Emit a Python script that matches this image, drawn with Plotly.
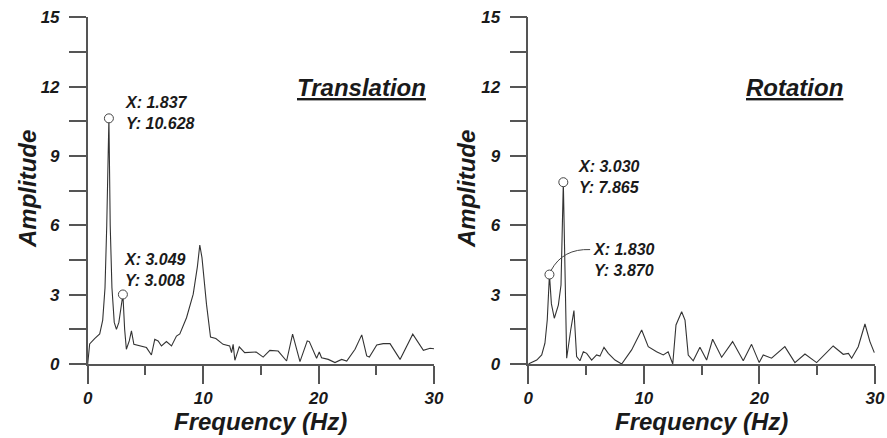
import plotly.graph_objects as go

# Translation spectrum
trans_freq = [0, 0.17, 0.6, 1.04, 1.3, 1.5, 1.65, 1.837, 1.95, 2.1, 2.3, 2.49, 2.7, 2.9,
              3.049, 3.2, 3.35, 3.6, 3.79, 4.0, 4.5, 5.09, 5.52, 5.81, 6.1, 6.39, 6.82,
              7.26, 7.69, 7.98, 8.56, 9.14, 9.5, 9.71, 9.9, 10.29, 10.64, 11.1, 11.73,
              12.3, 12.46, 12.6, 12.75, 13.13, 13.6, 14.2, 14.6, 15.2, 15.78, 16.5,
              17.23, 17.75, 18.39, 19.02, 19.2, 19.83, 20.06, 20.26, 20.84, 21.42, 22.0,
              22.44, 23.16, 23.74, 24.17, 24.4, 25.04, 25.6, 26.19, 27.06, 28.16, 29.08,
              29.66, 30.0]
trans_amp = [0, 0.87, 1.1, 1.3, 1.9, 3.3, 6.0, 10.628, 6.0, 3.3, 1.8, 1.5, 1.8, 2.4,
             3.008, 1.5, 0.64, 1.0, 1.43, 0.85, 0.78, 0.71, 0.39, 1.07, 1.0, 0.78, 0.97,
             0.78, 1.21, 1.3, 2.0, 3.02, 4.2, 5.15, 4.6, 2.59, 1.17, 1.1, 0.85,
             0.78, 0.49, 0.85, 0.16, 0.74, 0.49, 0.49, 0.52, 0.3, 0.59, 0.56,
             0.13, 1.29, 0.1, 1.0, 0.97, 0.25, 0.52, 0.27, 0.2, 0.06, 0.2,
             0.13, 0.64, 1.26, 0.35, 0.3, 0.82, 0.88, 0.88, 0.2, 1.29, 0.59,
             0.68, 0.66]

# Rotation spectrum
rot_freq = [0, 0.73, 1.16, 1.44, 1.64, 1.83, 2.0, 2.25, 2.6, 2.83, 3.03, 3.18, 3.32,
            3.67, 3.95, 4.18, 4.47, 4.76, 5.05, 5.48, 5.91, 6.2, 6.55, 6.92, 7.5, 8.08,
            8.94, 9.81, 10.38, 11.1, 11.68, 12.1, 12.4, 12.5, 12.78, 13.27, 13.56, 13.84,
            14.27, 14.85, 15.43, 15.95, 16.73, 17.68, 18.6, 19.32, 19.98, 20.33, 21.05,
            22.2, 23.07, 23.94, 24.95, 26.38, 27.25, 27.7, 27.98, 28.55, 29.13, 29.56,
            29.94]
rot_amp = [0, 0.17, 0.39, 0.9, 1.9, 3.87, 2.6, 1.98, 2.55, 3.42, 7.865, 3.5, 0.25,
           1.47, 2.31, 0.32, 0.14, 0.53, 0.46, 0.17, 0.39, 0.34, 0.72, 0.46, 0.17, 0.0,
           0.61, 1.47, 0.75, 0.53, 0.39, 0.53, 0.17, 0.0, 1.69, 2.26, 1.9, 0.39,
           0.14, 0.72, 0.17, 1.07, 0.29, 0.97, 0.14, 0.85, 0.06, 0.39, 0.25,
           0.75, 0.06, 0.43, 0.06, 0.78, 0.42, 0.46, 0.25, 0.75, 1.73, 0.97,
           0.49]

# Marked peaks (frequency, amplitude)
trans_peaks = [(1.837, 10.628), (3.049, 3.008)]
rot_peaks = [(3.030, 7.865), (1.830, 3.870)]

x_ticks = [0, 10, 20, 30]
y_ticks = [0, 3, 6, 9, 12, 15]
panel_titles = ["Translation", "Rotation"]

FONT = "Liberation Sans, Arial, sans-serif"
INK = "#1a1a1a"
AXIS = "#555555"

fig = go.Figure()

fig.add_trace(go.Scatter(x=trans_freq, y=trans_amp, mode="lines",
                         line=dict(color="#333333", width=1.1),
                         xaxis="x", yaxis="y", hoverinfo="skip"))
fig.add_trace(go.Scatter(x=rot_freq, y=rot_amp, mode="lines",
                         line=dict(color="#333333", width=1.1),
                         xaxis="x2", yaxis="y2", hoverinfo="skip"))

# Peak markers
fig.add_trace(go.Scatter(x=[p[0] for p in trans_peaks], y=[p[1] for p in trans_peaks],
                         mode="markers", xaxis="x", yaxis="y",
                         marker=dict(symbol="circle", size=9, color="white",
                                     line=dict(color="#444444", width=1))))
fig.add_trace(go.Scatter(x=[p[0] for p in rot_peaks], y=[p[1] for p in rot_peaks],
                         mode="markers", xaxis="x2", yaxis="y2",
                         marker=dict(symbol="circle", size=9, color="white",
                                     line=dict(color="#444444", width=1))))

tick_font = dict(family=FONT, size=17, color=INK, weight="bold", style="italic")

def xaxis_cfg(domain, anchor):
    return dict(domain=domain, anchor=anchor, range=[0, 30], tickvals=x_ticks,
                automargin=False,
                showgrid=False, zeroline=False, showline=True, linecolor=AXIS,
                linewidth=1.5, ticks="outside", ticklen=18, tickwidth=1.5,
                tickcolor=AXIS, tickfont=tick_font,
                minor=dict(dtick=5, tick0=0, ticks="outside", ticklen=9,
                           tickwidth=1.5, tickcolor=AXIS, showgrid=False))

def yaxis_cfg(anchor):
    return dict(domain=[(438 - 364) / 438, (438 - 17.3) / 438], anchor=anchor,
                range=[0, 15], automargin=False,
                tickvals=y_ticks, showgrid=False, zeroline=False, showline=True,
                linecolor=AXIS, linewidth=1.5, ticks="outside", ticklen=17,
                tickwidth=1.5, tickcolor=AXIS, tickfont=tick_font,
                ticklabelstandoff=6,
                minor=dict(dtick=1.5, tick0=0, ticks="outside", ticklen=17,
                           tickwidth=1.5, tickcolor=AXIS, showgrid=False))

label_font = dict(family=FONT, size=16, color=INK, weight="bold", style="italic")
title_font = dict(family=FONT, size=24, color=INK, weight="bold", style="italic")

annotations = []

# Peak labels
annotations.append(dict(x=3.05, y=10.85, xref="x", yref="y", xanchor="left",
                        yanchor="middle", align="left", showarrow=False,
                        text=f"X: {trans_peaks[0][0]:.3f}<br>Y: {trans_peaks[0][1]:.3f}",
                        font=label_font))
annotations.append(dict(x=2.95, y=4.05, xref="x", yref="y", xanchor="left",
                        yanchor="middle", align="left", showarrow=False,
                        text=f"X: {trans_peaks[1][0]:.3f}<br>Y: {trans_peaks[1][1]:.3f}",
                        font=label_font))
annotations.append(dict(x=4.1, y=8.07, xref="x2", yref="y2", xanchor="left",
                        yanchor="middle", align="left", showarrow=False,
                        text=f"X: {rot_peaks[0][0]:.3f}<br>Y: {rot_peaks[0][1]:.3f}",
                        font=label_font))
annotations.append(dict(x=5.45, y=4.5, xref="x2", yref="y2", xanchor="left",
                        yanchor="middle", align="left", showarrow=False,
                        text=f"X: {rot_peaks[1][0]:.3f}<br>Y: {rot_peaks[1][1]:.3f}",
                        font=label_font))

# Panel titles
annotations.append(dict(x=23.7, y=11.95, xref="x", yref="y", showarrow=False,
                        xanchor="center", yanchor="middle",
                        text=f"<u>{panel_titles[0]}</u>", font=title_font))
annotations.append(dict(x=23.07, y=11.95, xref="x2", yref="y2", showarrow=False,
                        xanchor="center", yanchor="middle",
                        text=f"<u>{panel_titles[1]}</u>", font=title_font))

# Axis titles
for xp in (28 / 887, 467 / 887):
    annotations.append(dict(x=xp, y=(438 - 189) / 438, xref="paper", yref="paper",
                            showarrow=False, textangle=-90, xanchor="center",
                            yanchor="middle", text="Amplitude", font=title_font))
for ax in ("x", "x2"):
    annotations.append(dict(x=15, y=(438 - 421) / 438, xref=ax, yref="paper",
                            showarrow=False, xanchor="center", yanchor="middle",
                            borderpad=0,
                            text="Frequency (Hz)", font=title_font))

# Curved leader from the 1.830 Hz marker to its label
shapes = [dict(type="path", xref="x2", yref="y2",
               path="M 1.97,4.05 Q 3.0,5.0 5.35,4.95",
               line=dict(color="#444444", width=1))]

fig.update_layout(
    template="none",
    width=887, height=438,
    margin=dict(l=0, r=0, t=0, b=0, pad=0),
    paper_bgcolor="white", plot_bgcolor="white",
    showlegend=False,
    xaxis=xaxis_cfg([87.7 / 887, 434 / 887], "y"),
    yaxis=yaxis_cfg("x"),
    xaxis2=xaxis_cfg([528.3 / 887, 875 / 887], "y2"),
    yaxis2=yaxis_cfg("x2"),
    annotations=annotations,
    shapes=shapes,
)

fig.write_html("out.html")
